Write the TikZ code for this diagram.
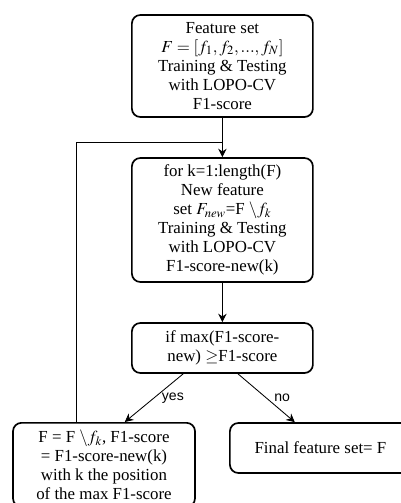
\documentclass[tikz,border=0pt]{standalone}
\usepackage{mathptmx}
\usepackage{fontspec}
\setmainfont{Liberation Serif}
\setsansfont{Liberation Sans}
\usetikzlibrary{arrows.meta}

\begin{document}
\begin{tikzpicture}[
    box/.style={draw, line width=1.2pt, rounded corners=6pt, align=center,
        minimum width=4.525cm, font=\fontsize{12}{13.6}\selectfont},
    arr/.style={-{Stealth[length=6pt,width=6pt]}, line width=0.6pt},
    lbl/.style={font=\sffamily\fontsize{10}{11}\selectfont}]
    \useasboundingbox (0,0) rectangle (10.025,-12.575);
    \node[box, minimum height=2.55cm] (feat) at (5.56,-1.65)
        {Feature set\\ $F = [f_1, f_2, ..., f_N]$\\ Training \& Testing\\ with LOPO-CV\\ F1-score};
    \node[box, minimum height=3.1cm] (loop) at (5.56,-5.5)
        {for k=1:length(F)\\ New feature\\ set $F_{new}$=F $\setminus f_k$\\ Training \& Testing\\ with LOPO-CV\\ F1-score-new(k)};
    \node[box, minimum height=1.25cm] (cond) at (5.56,-8.7)
        {if max(F1-score-\\ new) $\geq$F1-score};
    \node[box, minimum width=4.55cm, inner ysep=2pt, minimum height=2.1cm, anchor=north] (upd) at (2.6,-10.55)
        {F = F $\setminus f_k$, F1-score\\ = F1-score-new(k)\\ with k the position\\ of the max F1-score};
    \node[box, minimum height=1.25cm] (final) at (8.01,-11.2) {Final feature set= F};
    \coordinate (back) at (1.9,-3.55);

    \draw[arr] (feat) -- (loop);
    \draw[line width=0.6pt] (upd.north -| back) |- (feat.south |- back);
    \draw[arr] (loop) -- (cond);
    \draw[arr] ([xshift=-0.98cm]cond.south) -- node[lbl, right=2pt] {yes} ([xshift=0.52cm]upd.north);
    \draw[arr] ([xshift=0.39cm]cond.south) -- node[lbl, right=2pt] {no} ([xshift=-0.64cm]final.north);
\end{tikzpicture}
\end{document}
